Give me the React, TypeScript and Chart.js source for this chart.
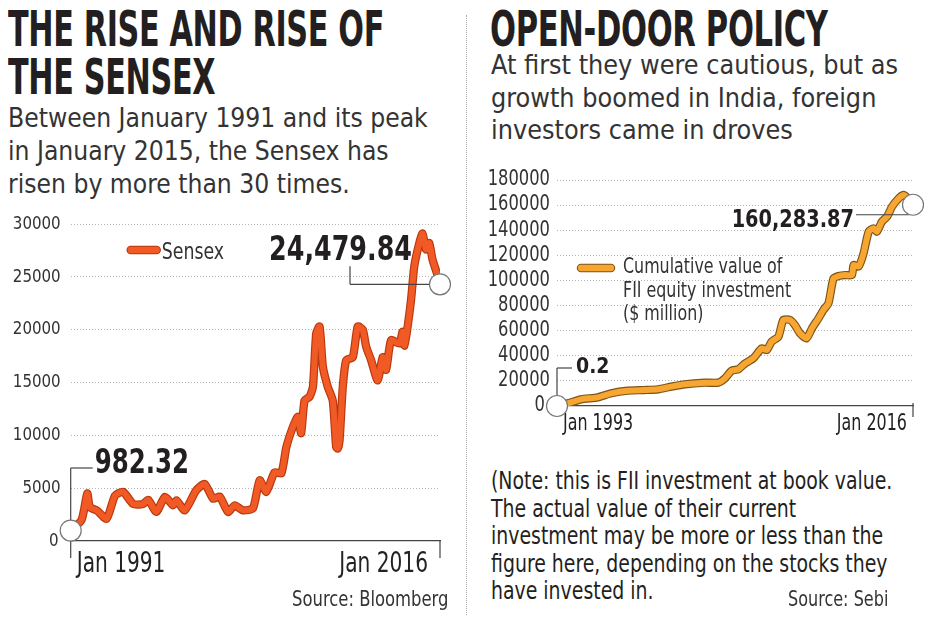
import React, { useEffect, useRef } from "react";
import { Chart, registerables } from "chart.js";
Chart.register(...registerables);

const FONT = '"DejaVu Sans Condensed", "DejaVu Sans", sans-serif';

// ---- Sensex (left chart) ----
const sensexYears = [
  1991.0, 1991.74, 1992.12, 1992.3, 1992.76, 1993.43, 1994.0, 1994.55, 1995.23, 1995.9,
  1996.25, 1996.8, 1997.37, 1997.93, 1998.16, 1998.72, 1999.5, 2000.07, 2000.64, 2001.09,
  2001.65, 2002.1, 2002.66, 2003.34, 2003.79, 2004.24, 2004.8, 2005.26, 2005.6, 2006.04,
  2006.38, 2006.6, 2006.83, 2007.17, 2007.4, 2007.62, 2007.85, 2008.07, 2008.4, 2008.74,
  2008.97, 2009.08, 2009.2, 2009.42, 2009.65, 2010.1, 2010.43, 2010.77, 2011.0, 2011.34,
  2011.78, 2012.12, 2012.35, 2012.69, 2013.25, 2013.47, 2013.6, 2013.81, 2014.04, 2014.26,
  2014.6, 2014.82, 2015.05, 2015.27, 2015.5, 2016.0,
];
const sensexValues = [
  982.32, 2000, 4500, 3200, 2900, 2100, 4300, 4650, 3500, 3500,
  3900, 2750, 4170, 3380, 3850, 2900, 4800, 5400, 4000, 4200,
  2750, 3380, 2900, 3100, 5750, 4650, 6500, 6400, 8900, 10800,
  11750, 10200, 13300, 13650, 14600, 19650, 20300, 16500, 14600, 13300,
  8900, 8750, 9500, 14600, 17100, 17400, 20300, 20000, 18400, 17100,
  15200, 17400, 16200, 19000, 18700, 19800, 18500, 20300, 22800, 26000,
  28200, 29100, 27600, 28200, 26600, 24479.84,
];
const sensexYTicks = [0, 5000, 10000, 15000, 20000, 25000, 30000];
const sensexXTicks = ["Jan 1991", "Jan 2016"];
const sensexLegend = ["Sensex"];
const sensexStartText = "982.32";
const sensexEndText = "24,479.84";

// ---- FII (right chart) ----
const fiiYears = [
  1993.0, 1993.69, 1994.55, 1995.62, 1996.48, 1997.56, 1998.63, 1999.5, 2000.35, 2001.21,
  2002.5, 2003.37, 2003.8, 2004.23, 2004.66, 2005.1, 2005.63, 2006.17, 2006.5, 2006.8,
  2007.24, 2007.56, 2007.99, 2008.3, 2008.63, 2009.06, 2009.4, 2009.82, 2010.14, 2010.46,
  2010.79, 2011.11, 2011.54, 2011.97, 2012.08, 2012.4, 2012.72, 2013.05, 2013.37, 2013.58,
  2013.9, 2014.23, 2014.55, 2014.98, 2015.3, 2015.5, 2015.9,
];
const fiiValues = [
  0.2, 2100, 5300, 6900, 10100, 12200, 12700, 13300, 15400, 17300,
  18600, 18600, 22000, 28100, 29200, 34000, 38000, 45900, 44600, 51200,
  55200, 68500, 68500, 64500, 57900, 53900, 61900, 69800, 76500, 81800,
  101700, 103500, 104300, 104300, 112300, 111000, 121600, 138900, 141500, 138900,
  146800, 150800, 158800, 165400, 168100, 166200, 160283.87,
];
const fiiYTicks = [0, 20000, 40000, 60000, 80000, 100000, 120000, 140000, 160000, 180000];
const fiiXTicks = ["Jan 1993", "Jan 2016"];
const fiiLegend = ["Cumulative value of", "FII equity investment", "($ million)"];
const fiiStartText = "0.2";
const fiiEndText = "160,283.87";

type Style = { yFont: number; ySx: number; yPad: number; xFont: number; xSx: number; xBase: number; xOffL: number; xOffR: number };

type Props = {
  years: number[];
  values: number[];
  yTicks: number[];
  xTicks: string[];
  legend: string[];
  core: string;
  edge: string;
  width: number;
  height: number;
  padR: number;
  padT: number;
  padB: number;
  yW: number;
  xH: number;
  st: Style;
  deco: (ctx: CanvasRenderingContext2D, g: any) => void;
};

function txt(ctx: CanvasRenderingContext2D, t: string, x: number, y: number, align: CanvasTextAlign, sx: number) {
  ctx.save();
  ctx.translate(x, y);
  ctx.scale(sx, 1);
  ctx.textAlign = align;
  ctx.fillText(t, 0, 0);
  ctx.restore();
}

function swatch(ctx: CanvasRenderingContext2D, x1: number, x2: number, y: number, core: string, edge: string) {
  ctx.lineCap = "round";
  ctx.strokeStyle = edge;
  ctx.lineWidth = 8.5;
  ctx.beginPath(); ctx.moveTo(x1, y); ctx.lineTo(x2, y); ctx.stroke();
  ctx.strokeStyle = core;
  ctx.lineWidth = 6.3;
  ctx.beginPath(); ctx.moveTo(x1, y); ctx.lineTo(x2, y); ctx.stroke();
}

function seg(ctx: CanvasRenderingContext2D, x1: number, y1: number, x2: number, y2: number) {
  ctx.beginPath(); ctx.moveTo(x1, y1); ctx.lineTo(x2, y2); ctx.stroke();
}

function circ(ctx: CanvasRenderingContext2D, x: number, y: number) {
  ctx.fillStyle = "#ffffff";
  ctx.strokeStyle = "#777";
  ctx.lineWidth = 1.2;
  ctx.beginPath(); ctx.arc(x, y, 10.5, 0, Math.PI * 2); ctx.fill(); ctx.stroke();
}

function LineChart(p: Props & { left: number; top: number }) {
  const ref = useRef<HTMLCanvasElement>(null);
  useEffect(() => {
    if (!ref.current) return;
    const pts = p.years.map((x, i) => ({ x, y: p.values[i] }));
    const decoPlugin = {
      id: "deco",
      afterDatasetsDraw(chart: any) {
        const { ctx, chartArea: a, scales } = chart;
        const xs = scales.x, ys = scales.y;
        const n = p.years.length - 1;
        const g = {
          a,
          x0: xs.getPixelForValue(p.years[0]),
          y0: ys.getPixelForValue(p.values[0]),
          x1: xs.getPixelForValue(p.years[n]),
          y1: ys.getPixelForValue(p.values[n]),
        };
        const st = p.st;
        ctx.save();
        // tick labels from the library's scales
        ctx.fillStyle = "#333";
        ctx.textBaseline = "middle";
        ctx.font = `${st.yFont}px ${FONT}`;
        ys.ticks.forEach((t: any) => {
          let xr = a.left - st.yPad;
          if (t.value === 0) xr = Math.min(xr, g.x0 - 12);
          txt(ctx, String(t.value), xr, ys.getPixelForValue(t.value), "right", st.ySx);
        });
        ctx.fillStyle = "#222";
        ctx.textBaseline = "alphabetic";
        ctx.font = `${st.xFont}px ${FONT}`;
        const xt = xs.ticks;
        xt.forEach((t: any, i: number) => {
          const align: CanvasTextAlign = i === 0 ? "left" : i === xt.length - 1 ? "right" : "center";
          const off = i === 0 ? st.xOffL : i === xt.length - 1 ? st.xOffR : 0;
          txt(ctx, p.xTicks[i], xs.getPixelForValue(t.value) + off, a.bottom + st.xBase, align, st.xSx);
        });
        p.deco(ctx, g);
        ctx.restore();
      },
    };
    const chart = new Chart(ref.current, {
      type: "line",
      data: {
        datasets: [
          { label: p.legend.join(" "), data: pts, borderColor: p.core, borderWidth: 6, pointRadius: 0, tension: 0.2, borderJoinStyle: "round", borderCapStyle: "round" },
          { label: p.legend.join(" "), data: pts, borderColor: p.edge, borderWidth: 8.3, pointRadius: 0, tension: 0.2, borderJoinStyle: "round", borderCapStyle: "round" },
        ],
      } as any,
      options: {
        animation: false,
        responsive: false,
        maintainAspectRatio: false,
        layout: { padding: { left: 0, right: p.padR, top: p.padT, bottom: p.padB } },
        plugins: { legend: { display: false }, tooltip: { enabled: false } },
        scales: {
          x: {
            type: "linear",
            min: p.years[0],
            max: p.years[p.years.length - 1],
            afterBuildTicks: (s: any) => { s.ticks = [{ value: s.min }, { value: s.max }]; },
            afterFit: (s: any) => { s.height = p.xH; },
            ticks: { display: false, autoSkip: false, maxRotation: 0, minRotation: 0 },
            grid: { display: false, drawTicks: false },
            border: { display: true, color: "#444", width: 1.3 },
          },
          y: {
            min: 0,
            max: p.yTicks[p.yTicks.length - 1],
            afterBuildTicks: (s: any) => { s.ticks = p.yTicks.map((v) => ({ value: v })); },
            afterFit: (s: any) => { s.width = p.yW; },
            ticks: { display: false, autoSkip: false },
            grid: {
              drawTicks: false,
              lineWidth: 1,
              color: (c: any) => (c.tick && c.tick.value === 0 ? "rgba(0,0,0,0)" : "#b5b5b5"),
            },
            border: { display: false, dash: [1, 2] },
          },
        },
      } as any,
      plugins: [decoPlugin],
    });
    return () => chart.destroy();
  }, []);
  return (
    <canvas
      ref={ref}
      width={p.width}
      height={p.height}
      style={{ position: "absolute", left: p.left, top: p.top, width: p.width, height: p.height }}
    />
  );
}

const sensexDeco = (ctx: CanvasRenderingContext2D, g: any) => {
  const { a, x0, y0, x1, y1 } = g;
  ctx.strokeStyle = "#444";
  ctx.lineWidth = 1.2;
  seg(ctx, a.right, a.bottom, a.right, a.bottom + 17);
  seg(ctx, x0, a.bottom - 73, x0, a.bottom + 17);
  seg(ctx, x0, a.bottom - 73, x0 + 22, a.bottom - 73);
  seg(ctx, x1 - 90, y1 - 16, x1 - 90, y1 + 2);
  seg(ctx, x1 - 90, y1 + 2, x1 - 10, y1 + 2);
  circ(ctx, x0, y0);
  circ(ctx, x1, y1 + 2);
  ctx.fillStyle = "#231f20";
  ctx.font = `bold 34px ${FONT}`;
  ctx.textBaseline = "alphabetic";
  txt(ctx, sensexStartText, x0 + 24, a.bottom - 68, "left", 0.8);
  txt(ctx, sensexEndText, x1 - 28, y1 - 22, "right", 0.83);
  swatch(ctx, a.left + 60, a.left + 86, a.top + 26, "#f15a24", "#b8380f");
  ctx.fillStyle = "#333";
  ctx.font = `23px ${FONT}`;
  txt(ctx, sensexLegend[0], a.left + 91, a.top + 35, "left", 0.84);
};

const fiiDeco = (ctx: CanvasRenderingContext2D, g: any) => {
  const { a, x0, y0, x1, y1 } = g;
  ctx.strokeStyle = "#444";
  ctx.lineWidth = 1.2;
  seg(ctx, a.right, a.bottom - 3, a.right, a.bottom + 11);
  seg(ctx, x0, a.bottom - 38, x0, a.bottom + 9);
  seg(ctx, x0, a.bottom - 38, x0 + 15, a.bottom - 38);
  seg(ctx, x1 - 57, y1 + 10, x1 - 4, y1 + 10);
  circ(ctx, x0, y0);
  circ(ctx, x1, y1);
  ctx.fillStyle = "#231f20";
  ctx.textBaseline = "alphabetic";
  ctx.font = `bold 21px ${FONT}`;
  txt(ctx, fiiStartText, x0 + 19, a.bottom - 33, "left", 1);
  ctx.font = `bold 25px ${FONT}`;
  txt(ctx, fiiEndText, x1 - 59, y1 + 22, "right", 0.86);
  swatch(ctx, a.left + 24, a.left + 54, a.top + 88, "#f6a631", "#7d5416");
  ctx.fillStyle = "#333";
  ctx.font = `21px ${FONT}`;
  fiiLegend.forEach((t, i) => txt(ctx, t, a.left + 66, a.top + 93 + i * 23.5, "left", 0.84));
};

const abs = (s: React.CSSProperties, sx = 1): React.CSSProperties => ({
  position: "absolute",
  margin: 0,
  whiteSpace: "pre",
  fontFamily: FONT,
  transform: `scaleX(${sx})`,
  transformOrigin: "0 0",
  ...s,
});

export default function App() {
  return (
    <div style={{ position: "absolute", left: 0, top: 0, width: 932, height: 621, background: "#fff", overflow: "hidden" }}>
      <div style={abs({ left: 8, top: 5, fontSize: 50, lineHeight: "48px", fontWeight: 700, color: "#231f20", letterSpacing: -0.5 }, 0.672)}>
        {"THE RISE AND RISE OF\nTHE SENSEX"}
      </div>
      <div style={abs({ left: 8, top: 101, fontSize: 27, lineHeight: "33px", color: "#333" }, 0.97)}>
        {"Between January 1991 and its peak\nin January 2015, the Sensex has\nrisen by more than 30 times."}
      </div>
      <div style={abs({ left: 490, top: 5, fontSize: 50, lineHeight: "48px", fontWeight: 700, color: "#231f20", letterSpacing: -0.5 }, 0.68)}>
        {"OPEN-DOOR POLICY"}
      </div>
      <div style={abs({ left: 491, top: 49, fontSize: 27, lineHeight: "32.5px", color: "#333" }, 0.99)}>
        {"At first they were cautious, but as\ngrowth boomed in India, foreign\ninvestors came in droves"}
      </div>
      <div style={{ position: "absolute", left: 466, top: 15, height: 600, borderLeft: "1px dotted #aaa" }} />
      <LineChart
        left={0} top={200} width={466} height={421}
        years={sensexYears} values={sensexValues} yTicks={sensexYTicks} xTicks={sensexXTicks} legend={sensexLegend}
        core="#f15a24" edge="#b8380f"
        padR={26} padT={24} padB={40} yW={70.7} xH={40}
        st={{ yFont: 18, ySx: 0.93, yPad: 10, xFont: 28, xSx: 0.8, xBase: 30.5, xOffL: 6, xOffR: -12 }}
        deco={sensexDeco}
      />
      <LineChart
        left={466} top={160} width={466} height={280}
        years={fiiYears} values={fiiValues} yTicks={fiiYTicks} xTicks={fiiXTicks} legend={fiiLegend}
        core="#f6a631" edge="#7d5416"
        padR={19} padT={20} padB={4} yW={91} xH={30}
        st={{ yFont: 20.5, ySx: 0.885, yPad: 7, xFont: 23, xSx: 0.77, xBase: 24, xOffL: 6, xOffR: -6 }}
        deco={fiiDeco}
      />
      <div style={abs({ left: 292, top: 588, fontSize: 22, lineHeight: "22px", color: "#333" }, 0.83)}>{"Source: Bloomberg"}</div>
      <div style={abs({ left: 491, top: 468, fontSize: 24, lineHeight: "27.5px", color: "#231f20" }, 0.875)}>
        {"(Note: this is FII investment at book value.\nThe actual value of their current\ninvestment may be more or less than the\nfigure here, depending on the stocks they\nhave invested in."}
      </div>
      <div style={abs({ left: 788, top: 589, fontSize: 21, lineHeight: "21px", color: "#333" }, 0.85)}>{"Source: Sebi"}</div>
    </div>
  );
}
